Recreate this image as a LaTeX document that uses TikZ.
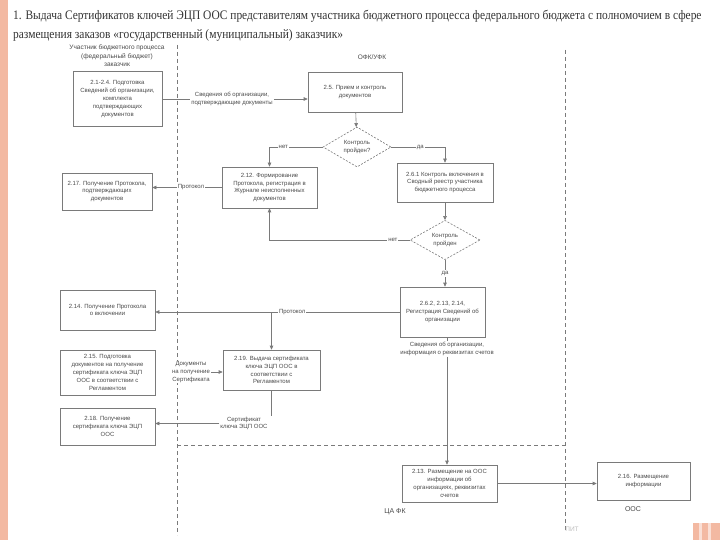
\documentclass[tikz,border=0pt]{standalone}
\usepackage{fontspec}
\setmainfont{Liberation Sans}
\newfontfamily\titlefont{Liberation Serif}
\usetikzlibrary{arrows.meta,shapes.geometric}
\definecolor{salmon}{HTML}{F3B9A2}
\definecolor{ln}{HTML}{7A7A7A}
\definecolor{tx}{HTML}{4A4A4A}
\begin{document}
\begin{tikzpicture}[x=1pt,y=-1pt,
  proc/.style={draw=ln, line width=0.6pt, fill=white, text=tx, font=\fontsize{6}{7.8}\selectfont, align=center, inner sep=1pt},
  dia/.style={diamond, draw=ln, line width=0.6pt, dash pattern=on 2pt off 1.5pt, fill=white, text=tx, font=\fontsize{6}{7.8}\selectfont, align=center, inner sep=0pt},
  lbl/.style={text=tx, font=\fontsize{6}{7.8}\selectfont, align=center, inner sep=1pt},
  lblw/.style={lbl, fill=white},
  conn/.style={draw=ln, line width=0.6pt},
  arr/.style={conn, -{Triangle[length=4pt,width=3.5pt]}},
  lane/.style={draw=ln, line width=0.6pt, dash pattern=on 4pt off 3pt},
  lanetitle/.style={text=tx, font=\fontsize{6.5}{8.5}\selectfont, align=center},
  ttl/.style={anchor=base west, inner sep=0pt, text=black!80, font=\titlefont\fontsize{13}{15}\selectfont}
]
\useasboundingbox (0,0) rectangle (720,540);
\fill[white] (0,0) rectangle (720,540);
% decorations
\fill[salmon] (0,0) rectangle (8,540);
\fill[salmon] (693,523) rectangle (720,540);
\fill[salmon!45] (699,523) rectangle (702,540);
\fill[salmon!45] (708,523) rectangle (711,540);

% title
\node[ttl] (t1) at (13,20)
 {\scalebox{0.88}[1]{1. Выдача Сертификатов ключей ЭЦП ООС представителям участника бюджетного процесса федерального бюджета с полномочием в сфере}};
\node[ttl] (t2) at (13,39)
 {\scalebox{0.88}[1]{размещения заказов «государственный (муниципальный) заказчик»}};

% lanes
\draw[lane] (177,45) -- (177,535);
\draw[lane] (565,50) -- (565,530);
\draw[lane] (177,445) -- (565,445);
\node[lanetitle] (h1) at (117,56) {Участник бюджетного процесса\\(федеральный бюджет)\\заказчик};
\node[lanetitle] (h2) at (372,57) {ОФК/УФК};
\node[lanetitle, font=\fontsize{7}{9}\selectfont] (h3) at (395,512) {ЦА ФК};
\node[lanetitle, font=\fontsize{7}{9}\selectfont] (h4) at (633,509) {ООС};
\node[lanetitle, text=black!25] (h5) at (572,529) {ПИТ};

% boxes
\node[proc, minimum width=89pt, minimum height=55pt] (A) at (117.5,99) {2.1-2.4. Подготовка\\Сведений об организации,\\комплекта\\подтверждающих\\документов};
\node[proc, minimum width=94pt, minimum height=40pt] (B25) at (355,92) {2.5. Прием и контроль\\документов};
\node[dia, minimum width=68pt, minimum height=40pt] (D1) at (357,147) {Контроль\\пройден?};
\node[proc, minimum width=95pt, minimum height=41pt] (B212) at (269.5,187.5) {2.12. Формирование\\Протокола, регистрация в\\Журнале неисполненных\\документов};
\node[proc, minimum width=96pt, minimum height=39pt] (B26) at (445,182.5) {2.6.1 Контроль включения в\\Сводный реестр участника\\бюджетного процесса};
\node[proc, minimum width=90pt, minimum height=37pt] (B217) at (107,191.5) {2.17. Получение Протокола,\\подтверждающих\\документов};
\node[dia, minimum width=70pt, minimum height=38pt] (D2) at (445,240) {Контроль\\пройден};
\node[proc, minimum width=85pt, minimum height=50pt] (B263) at (442.5,312) {2.6.2, 2.13, 2.14,\\Регистрация Сведений об\\организации};
\node[proc, minimum width=95pt, minimum height=40pt] (B214) at (107.5,310) {2.14. Получение Протокола\\о включении};
\node[proc, minimum width=95pt, minimum height=45pt] (B215) at (107.5,372.5) {2.15. Подготовка\\документов на получение\\сертификата ключа ЭЦП\\ООС в соответствии с\\Регламентом};
\node[proc, minimum width=97pt, minimum height=40pt] (B219) at (271.5,370) {2.19. Выдача сертификата\\ключа ЭЦП ООС в\\соответствии с\\Регламентом};
\node[proc, minimum width=95pt, minimum height=37pt] (B218) at (107.5,426.5) {2.18. Получение\\сертификата ключа ЭЦП\\ООС};
\node[proc, minimum width=95pt, minimum height=37pt] (B213) at (449.5,483.5) {2.13. Размещение на ООС\\информации об\\организациях, реквизитах\\счетов};
\node[proc, minimum width=93pt, minimum height=38pt] (B216) at (643.5,481) {2.16. Размещение\\информации};

% labels
\node[lbl] (L1) at (232,99) {Сведения об организации,\\подтверждающие документы};
\node[lblw] (L2) at (191,187.5) {Протокол};
\node[lbl] (L3) at (447,349) {Сведения об организации,\\информация о реквизитах счетов};
\node[lblw] (L4) at (191,372) {Документы\\на получение\\Сертификата};
\node[lbl] (L5) at (244,423.5) {Сертификат\\ключа ЭЦП ООС};

% connectors
\draw[conn] (A.east) -- (L1.west);
\draw[arr] (L1.east) -- (L1.east -| B25.west);
\draw[arr] (B25) -- (D1);
\draw[arr] (D1.west) -| (B212.north) node[lblw, pos=0.37] {нет};
\draw[arr] (D1.east) -| (B26.north) node[lblw, pos=0.27] {да};
\draw[conn] (B212.west) -- (L2.east);
\draw[arr] (L2.west) -- (L2.west -| B217.east);
\draw[arr] (B26) -- (D2);
\draw[arr] (D2.west) -| (B212.south) node[lblw, pos=0.06] {нет};
\draw[arr] (D2.south) -- (D2.south |- B263.north) node[lblw, midway] {да};
\draw[arr] (B263.west) -- (B263.west -| B214.east) node[lblw, pos=0.44] {Протокол};
\coordinate (br) at (B263.west -| B219.north);
\draw[arr] (br) -- (B219.north);
\draw[conn] (L3.north) -- (L3.north |- B263.south);
\draw[arr] (L3.south) -- (L3.south |- B213.north);
\draw[arr] (L4.east) -- (L4.east -| B219.west);
\draw[conn] (B219.south) -- (B219.south |- L5.north);
\draw[arr] (L5.west) -- (L5.west -| B218.east);
\draw[arr] (B213.east) -- (B213.east -| B216.west);
\end{tikzpicture}
\end{document}
